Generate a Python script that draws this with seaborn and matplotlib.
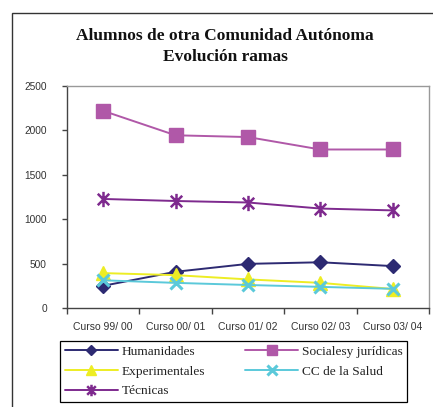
import matplotlib
matplotlib.use("Agg")
import matplotlib.pyplot as plt
import seaborn as sns
import pandas as pd
from matplotlib.path import Path
from matplotlib.patches import Rectangle

cursos = ["Curso 99/ 00", "Curso 00/ 01", "Curso 01/ 02", "Curso 02/ 03", "Curso 03/ 04"]
humanidades = [250, 408, 497, 515, 472]
sociales = [2220, 1945, 1925, 1785, 1785]
experimentales = [393, 370, 322, 283, 214]
cc_salud = [312, 283, 259, 238, 216]
tecnicas = [1228, 1205, 1188, 1120, 1099]
yticks = [0, 500, 1000, 1500, 2000, 2500]
title_lines = ["Alumnos de otra Comunidad Autónoma", "Evolución ramas"]

sns.set_style("white")
plt.rcParams["font.family"] = ["Liberation Sans", "DejaVu Sans"]

asterisk = Path(
    [(0, -1), (0, 1), (-0.75, -0.75), (0.75, 0.75), (-0.75, 0.75), (0.75, -0.75)],
    [Path.MOVETO, Path.LINETO, Path.MOVETO, Path.LINETO, Path.MOVETO, Path.LINETO],
)

series = [
    ("Humanidades", humanidades, "#2D2A72", "D", 7, 1.0),
    ("Socialesy jurídicas", sociales, "#B058A8", "s", 10, 1.0),
    ("Experimentales", experimentales, "#EDED24", "^", 10, 1.0),
    ("CC de la Salud", cc_salud, "#5BC9DA", "x", 9, 2.2),
    ("Técnicas", tecnicas, "#7E2A8E", asterisk, 11, 1.8),
]

fig = plt.figure(figsize=(4.33, 4.07), dpi=100)
ax = fig.add_axes([67 / 433, 1 - 308 / 407, (429 - 67) / 433, (308 - 86) / 407])

handles = {}
for name, vals, col, mk, ms, mew in series:
    df = pd.DataFrame({"curso": cursos, "valor": vals})
    sns.lineplot(data=df, x="curso", y="valor", ax=ax, color=col, linewidth=1.4,
                 marker=mk, markersize=ms, markeredgewidth=mew,
                 markeredgecolor=col, markerfacecolor=col, label=name, sort=False)
    handles[name] = ax.lines[-1]

ax.set_xlim(-0.5, len(cursos) - 0.5)
ax.set_ylim(0, 2500)
ax.set_yticks(yticks)
ax.set_yticklabels([str(v) for v in yticks])
ax.set_xlabel("")
ax.set_ylabel("")

ax.set_xticks(range(len(cursos)))
ax.set_xticklabels(cursos)
ax.set_xticks([i - 0.5 for i in range(len(cursos) + 1)], minor=True)
ax.tick_params(axis="x", which="major", length=0, pad=10, labelsize=7.5, colors="#333333")
ax.tick_params(axis="x", which="minor", length=4, width=1, color="#444444", direction="out", bottom=True)
ax.tick_params(axis="y", length=3.5, width=1, color="#444444", direction="out", left=True,
               pad=11, labelsize=7.3, labelcolor="#333333")

for s in ["left", "bottom"]:
    ax.spines[s].set_color("#444444")
    ax.spines[s].set_linewidth(1.0)
for s in ["top", "right"]:
    ax.spines[s].set_color("#999999")
    ax.spines[s].set_linewidth(1.0)
ax.grid(False)

if ax.get_legend():
    ax.get_legend().remove()

order = ["Humanidades", "Experimentales", "Técnicas", "Socialesy jurídicas", "CC de la Salud"]
leg = fig.legend([handles[n] for n in order], order,
                 loc="upper left",
                 bbox_to_anchor=(60 / 433, 1 - 341 / 407),
                 bbox_transform=fig.transFigure, ncol=2,
                 borderaxespad=0, handlelength=4.0, handletextpad=0.25,
                 columnspacing=3.0, markerscale=0.75,
                 labelspacing=0.55, borderpad=0.35, fancybox=False, framealpha=1,
                 edgecolor="black", prop={"family": "Liberation Serif", "size": 9.6})
leg.get_frame().set_linewidth(0.9)
for t in leg.get_texts():
    t.set_color("#222222")

fig.text(225 / 433, 1 - 36 / 407, title_lines[0], ha="center", va="center",
         family="Liberation Serif", fontweight="bold", fontsize=12.5, color="#111111")
fig.text(225 / 433, 1 - 57 / 407, title_lines[1], ha="center", va="center",
         family="Liberation Serif", fontweight="bold", fontsize=12.5, color="#111111")

frame = Rectangle((12 / 433, -0.2), 1.2, 1 - 13 / 407 + 0.2, transform=fig.transFigure,
                  fill=False, edgecolor="#333333", linewidth=1.0, clip_on=False)
fig.patches.append(frame)

fig.savefig("out.png", dpi=100)
